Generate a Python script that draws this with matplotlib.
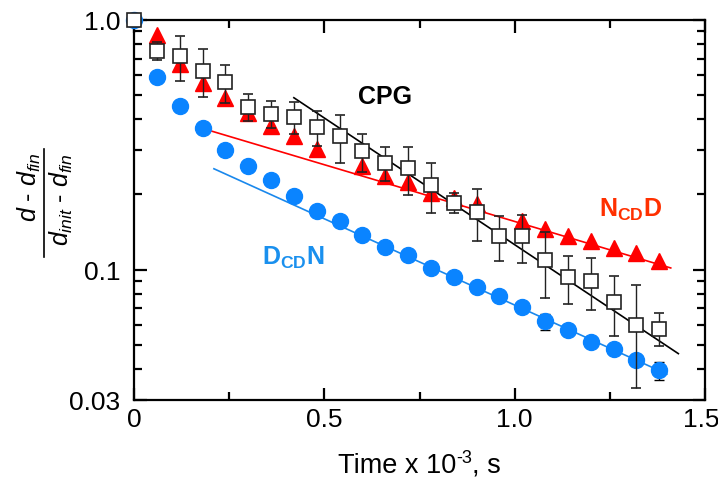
"""Relaxation of d for CPG, NCD-D and DCD-N on a log scale."""

import numpy as np
import matplotlib

matplotlib.use("Agg")
import matplotlib.pyplot as plt
from matplotlib.lines import Line2D
from matplotlib.transforms import ScaledTranslation

plt.rcParams["font.family"] = ["Liberation Sans", "DejaVu Sans"]
plt.rcParams["mathtext.fontset"] = "custom"
plt.rcParams["mathtext.rm"] = "Liberation Sans"
plt.rcParams["mathtext.it"] = "Liberation Sans:italic"
plt.rcParams["mathtext.bf"] = "Liberation Sans:bold"

# time axis (x 10^-3 s)
time = [0.00, 0.06, 0.12, 0.18, 0.24, 0.30, 0.36, 0.42, 0.48, 0.54, 0.60, 0.66,
        0.72, 0.78, 0.84, 0.90, 0.96, 1.02, 1.08, 1.14, 1.20, 1.26, 1.32, 1.38]

cpg = [1.00, 0.754, 0.719, 0.627, 0.563, 0.450, 0.420, 0.408, 0.372, 0.342, 0.298, 0.268,
       0.255, 0.218, 0.185, 0.170, 0.136, 0.136, 0.109, 0.093, 0.090, 0.074, 0.060, 0.058]
cpg_err = [0.0, 0.060, 0.147, 0.137, 0.097, 0.055, 0.052, 0.060, 0.058, 0.075, 0.052, 0.042,
           0.056, 0.050, 0.017, 0.040, 0.028, 0.030, 0.032, 0.020, 0.021, 0.020, 0.0265, 0.0087]

ncdd = [np.nan, 0.873, 0.667, 0.558, 0.485, 0.424, 0.377, 0.342, 0.303, np.nan, 0.261, 0.238,
        0.224, 0.203, 0.194, 0.183, np.nan, 0.156, 0.145, 0.136, 0.130, 0.122, 0.117, 0.108]

dcdn = [1.00, 0.589, 0.454, 0.369, 0.302, 0.260, 0.229, 0.197, 0.172, 0.156, 0.138, 0.123,
        0.114, 0.101, 0.093, 0.085, 0.078, 0.071, 0.062, 0.057, 0.051, 0.048, 0.0435, 0.0394]
dcdn_err = [0, 0, 0, 0, 0, 0, 0, 0, 0, 0, 0, 0,
            0, 0, 0, 0, 0, 0, 0.0046, 0, 0, 0, 0, 0.0033]

# single-exponential fits y = A exp(-k t), drawn over [t0, t1]
fits = {
    "cpg": dict(A=1.303, k=2.338, t0=0.42, t1=1.43, color="black"),
    "ncdd": dict(A=0.444, k=1.047, t0=0.20, t1=1.41, color="#ff0000"),
    "dcdn": dict(A=0.354, k=1.592, t0=0.21, t1=1.40, color="#1a88ec"),
}

W, H = 718, 481
fig = plt.figure(figsize=(W / 100, H / 100), dpi=100)
ax = fig.add_axes([134 / W, 1 - 401 / H, (705 - 134) / W, (401 - 21) / H])

for name, f in fits.items():
    tt = np.linspace(f["t0"], f["t1"], 50)
    ax.plot(tt, f["A"] * np.exp(-f["k"] * tt), color=f["color"], lw=1.2, zorder=2)

ax.errorbar(time, dcdn, yerr=dcdn_err, fmt="o", ms=11.5, mfc="#0a84ff", mec="#0a84ff",
            ecolor="black", elinewidth=1.0, capsize=3.5, capthick=1.0, zorder=3, clip_on=False)
ax.plot(time, ncdd, "^", ms=11, color="#ff0000", zorder=4, clip_on=False)
ax.errorbar(time, cpg, yerr=cpg_err, fmt="s", ms=10.5, mfc="white", mec="#222222", mew=1.2,
            ecolor="#222222", elinewidth=1.0, capsize=3.5, capthick=1.0, zorder=5, clip_on=False)

ax.set_yscale("log")
ax.set_xlim(0, 1.5)
ax.set_ylim(0.03, 1.0)
ax.set_xticks([0, 0.5, 1.0, 1.5])
ax.set_xticklabels(["0", "0.5", "1.0", "1.5"])
ax.set_xticks([0.25, 0.75, 1.25], minor=True)
ax.set_yticks([0.03, 0.1, 1.0])
ax.set_yticklabels(["0.03", "0.1", "1.0"])
ax.set_yticks([0.04, 0.05, 0.06, 0.07, 0.08, 0.09, 0.2, 0.3, 0.4, 0.5, 0.6, 0.7, 0.8, 0.9],
              minor=True)
ax.yaxis.set_minor_formatter(matplotlib.ticker.NullFormatter())

for s in ax.spines.values():
    s.set_linewidth(1.6)
ax.tick_params(which="both", direction="in", top=True, right=True, width=1.6, labelsize=19,
               colors="black")
ax.tick_params(which="major", length=9)
ax.tick_params(which="minor", length=6)
ax.tick_params(axis="x", which="major", pad=5)
ax.tick_params(axis="y", which="major", pad=10)

# nudge the last x label so it stays inside the canvas, as in the original
last = ax.get_xticklabels()[-1]
last.set_transform(last.get_transform() + ScaledTranslation(-4 / 100, 0, fig.dpi_scale_trans))

fig.text(385 / W, 1 - 97 / H, "CPG", fontsize=18, fontweight="bold", ha="center", va="center")
fig.text(599 / W, 1 - 217 / H, r"$\mathbf{N_{CD}D}$", fontsize=18, color="#ff3000",
         ha="left", va="baseline")
fig.text(262 / W, 1 - 265 / H, r"$\mathbf{D_{CD}N}$", fontsize=18, color="#1a90ee",
         ha="left", va="baseline")

# x label with a hyphen superscript: "Time x 10", "-3", ", s"
renderer = fig.canvas.get_renderer()
parts = [("Time x 10", 19.5, 0), ("-3", 13, 10), (", s", 19.5, 0)]
widths = []
for txt, size, _ in parts:
    t = fig.text(0, 0, txt, fontsize=size)
    widths.append(t.get_window_extent(renderer).width)
    t.remove()
x0 = 419 - sum(widths) / 2
base_y = H - 473
for (txt, size, rise), w in zip(parts, widths):
    fig.text(x0 / W, (base_y + rise) / H, txt, fontsize=size, ha="left", va="baseline")
    x0 += w

# y label as a stacked fraction, rotated
fig.text(29 / W, 1 - 187 / H, r"$d$ - $d_{fin}$", fontsize=18, rotation=90,
         ha="center", va="center")
fig.text(61 / W, 1 - 200 / H, r"$d_{init}$ - $d_{fin}$", fontsize=18, rotation=90,
         ha="center", va="center")
fig.add_artist(Line2D([44 / W, 44 / W], [1 - 150 / H, 1 - 258 / H], color="black", lw=1.2))

fig.savefig("out.png", dpi=100)
